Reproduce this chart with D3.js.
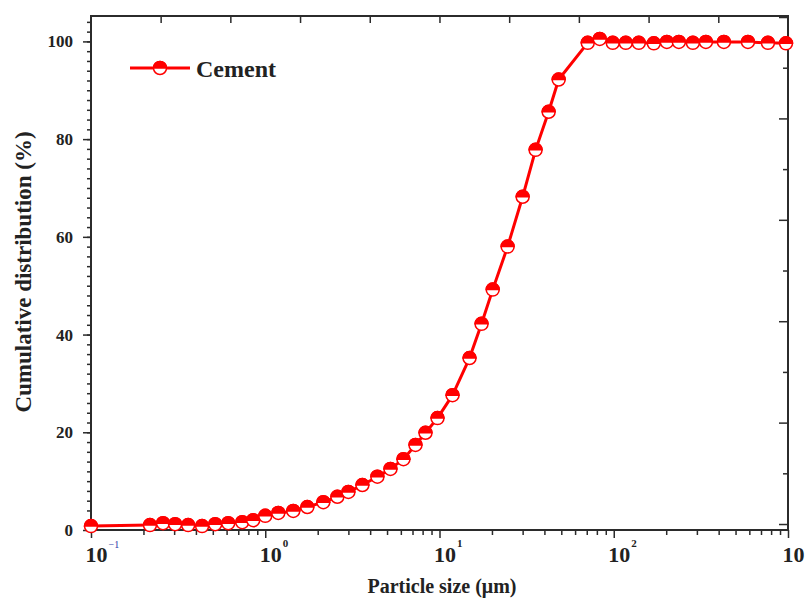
<!DOCTYPE html>
<html>
<head>
<meta charset="utf-8">
<script src="https://cdn.jsdelivr.net/npm/d3@7"></script>
<style>
  body { margin: 0; background: #fff; }
  text { font-family: "Liberation Serif", "Times New Roman", serif; font-weight: bold; }
</style>
</head>
<body>
<div id="chart"></div>
<script>
const width = 805;
const height = 601;

// particle size (um) and cumulative distribution (%)
const sizes = [0.1, 0.218, 0.259, 0.304, 0.361, 0.434, 0.516, 0.613, 0.738, 0.853,
    1.0, 1.188, 1.448, 1.743, 2.154, 2.593, 3.0, 3.61, 4.40, 5.23,
    6.21, 7.28, 8.31, 9.74, 11.88, 14.87, 17.43, 20.2, 24.6, 30.0,
    35.6, 42.3, 48.3, 70.9, 83.1, 98.7, 117.2, 139.2, 169.8, 201.7,
    236.4, 284.5, 337.9, 428.6, 589, 767, 974];
const cumulative = [0.8, 1.0, 1.4, 1.2, 1.0, 0.8, 1.2, 1.4, 1.6, 2.0,
    2.9, 3.5, 3.9, 4.7, 5.7, 6.8, 7.8, 9.2, 10.9, 12.5,
    14.5, 17.4, 19.9, 22.9, 27.6, 35.2, 42.2, 49.2, 58.0, 68.2,
    77.8, 85.6, 92.2, 99.7, 100.5, 99.7, 99.7, 99.7, 99.6, 99.9,
    99.9, 99.7, 99.9, 99.9, 99.9, 99.7, 99.6];
const seriesName = "Cement";

const yTicks = [0, 20, 40, 60, 80, 100];
const xTicks = [0.1, 1, 10, 100, 1000];
const xExponents = ["\u22121", "0", "1", "2", "3"];

const plotLeft = 91, plotRight = 788, plotTop = 16, plotBottom = 530;

const svg = d3.select("#chart")
    .append("svg")
    .attr("width", width)
    .attr("height", height);

const x = d3.scaleLog().domain([0.1, 1000]).range([plotLeft, plotRight]);
const y = d3.scaleLinear().domain([0, 105.2]).range([plotBottom, plotTop]);
// top and right axes in Origin style (independent linear ticks)
const xTop = d3.scaleLinear().domain([0.1, 1000]).range([plotLeft, plotRight]);
const yRight = d3.scaleLinear().domain([-1.18, 100.2]).range([plotBottom, plotTop]);

const axisColor = "#2b2b2b";

// minor ticks
const xMinor = [];
for (let e = -1; e < 3; e++) {
    for (let m = 2; m <= 9; m++) xMinor.push(m * Math.pow(10, e));
}
svg.append("g")
    .attr("transform", `translate(0,${plotBottom})`)
    .call(d3.axisBottom(x).tickValues(xMinor).tickSize(5).tickFormat(""))
    .call(g => g.select(".domain").remove())
    .call(g => g.selectAll("line").attr("stroke", axisColor).attr("stroke-width", 1.5));

svg.append("g")
    .attr("transform", `translate(${plotLeft},0)`)
    .call(d3.axisLeft(y).tickValues(d3.range(0, 105, 2)).tickSize(4).tickFormat(""))
    .call(g => g.select(".domain").remove())
    .call(g => g.selectAll("line").attr("stroke", axisColor).attr("stroke-width", 1.5));

// major bottom axis
const xAxis = svg.append("g")
    .attr("transform", `translate(0,${plotBottom})`)
    .call(d3.axisBottom(x).tickValues(xTicks).tickSize(8).tickPadding(10).tickFormat(""));
xAxis.select(".domain").remove();
xAxis.selectAll("line").attr("stroke", axisColor).attr("stroke-width", 1.5);
xAxis.selectAll(".tick text")
    .attr("fill", "#222")
    .attr("text-anchor", "start")
    .attr("x", -6)
    .attr("y", 32)
    .attr("dy", null)
    .each(function (d, i) {
        const t = d3.select(this);
        t.append("tspan").attr("font-size", 22).text("10");
        t.append("tspan")
            .attr("font-size", i === 0 ? 10 : 11)
            .attr("font-weight", i === 0 ? "normal" : "bold")
            .attr("fill", i === 0 ? "#2a3aa8" : "#222")
            .attr("dx", 1)
            .attr("dy", i === 0 ? -14 : -15)
            .text(xExponents[i]);
    });

// major left axis
const yAxis = svg.append("g")
    .attr("transform", `translate(${plotLeft},0)`)
    .call(d3.axisLeft(y).tickValues(yTicks).tickSize(8).tickPadding(10));
yAxis.select(".domain").remove();
yAxis.selectAll("line").attr("stroke", axisColor).attr("stroke-width", 1.5);
yAxis.selectAll("text").attr("font-size", 17).attr("fill", "#222");

// top axis, ticks inward
svg.append("g")
    .attr("transform", `translate(0,${plotTop})`)
    .call(d3.axisBottom(xTop).tickValues(d3.range(100, 1000, 100)).tickSize(7).tickFormat(""))
    .call(g => g.select(".domain").remove())
    .call(g => g.selectAll("line").attr("stroke", axisColor).attr("stroke-width", 1.5));

// right axis, ticks inward
svg.append("g")
    .attr("transform", `translate(${plotRight},0)`)
    .call(d3.axisLeft(yRight).tickValues(d3.range(0, 101, 10)).tickFormat(""))
    .call(g => g.select(".domain").remove())
    .call(g => g.selectAll("line")
        .attr("x2", d => d % 20 === 0 ? -9 : -5)
        .attr("stroke", axisColor).attr("stroke-width", 1.5));

// frame
svg.append("rect")
    .attr("x", plotLeft)
    .attr("y", plotTop)
    .attr("width", plotRight - plotLeft)
    .attr("height", plotBottom - plotTop)
    .attr("fill", "none")
    .attr("stroke", axisColor)
    .attr("stroke-width", 2);

// data
const points = sizes.map((s, i) => ({ s: s, v: cumulative[i] }));

const line = d3.line()
    .x(d => x(d.s))
    .y(d => y(d.v));

svg.append("path")
    .datum(points)
    .attr("d", line)
    .attr("fill", "none")
    .attr("stroke", "#ff0000")
    .attr("stroke-width", 3)
    .attr("stroke-linejoin", "round");

const r = 6.5;
const halfTop = `M${-r},0A${r},${r} 0 0 1 ${r},0Z`;

function marker(g) {
    g.append("circle")
        .attr("r", r)
        .attr("fill", "#fff")
        .attr("stroke", "#ff0000")
        .attr("stroke-width", 1.5);
    g.append("path")
        .attr("d", halfTop)
        .attr("fill", "#ff0000")
        .attr("stroke", "#ff0000")
        .attr("stroke-width", 1.5);
}

svg.selectAll(".pt")
    .data(points)
    .enter()
    .append("g")
    .attr("class", "pt")
    .attr("transform", d => `translate(${x(d.s)},${y(d.v)})`)
    .call(marker);

// legend
const legend = svg.append("g").attr("transform", "translate(130,68)");
legend.append("line")
    .attr("x1", 0).attr("x2", 60)
    .attr("stroke", "#ff0000")
    .attr("stroke-width", 3);
legend.append("g").attr("transform", "translate(30,0)").call(marker);
legend.append("text")
    .attr("x", 66)
    .attr("y", 9)
    .attr("font-size", 24)
    .attr("fill", "#222")
    .text(seriesName);

// axis titles
svg.append("text")
    .attr("x", 442)
    .attr("y", 593)
    .attr("text-anchor", "middle")
    .attr("font-size", 20)
    .attr("fill", "#222")
    .text("Particle size (\u03bcm)");

svg.append("text")
    .attr("transform", "translate(31,272) rotate(-90)")
    .attr("text-anchor", "middle")
    .attr("font-size", 23)
    .attr("fill", "#222")
    .text("Cumulative distribution (%)");
</script>
</body>
</html>
